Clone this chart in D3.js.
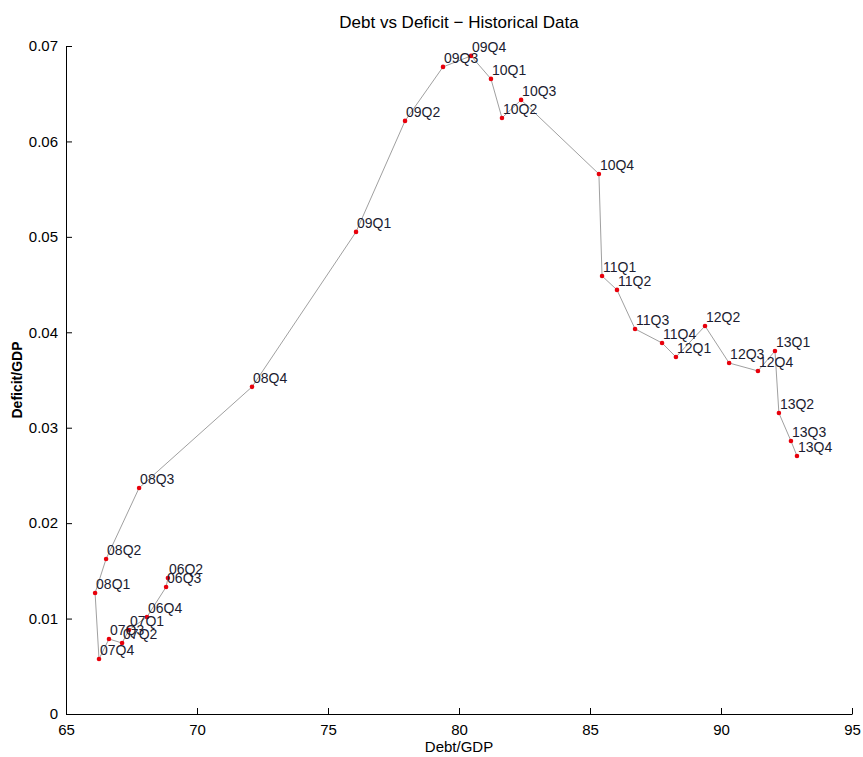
<!DOCTYPE html>
<html>
<head>
<meta charset="utf-8">
<script src="https://cdn.jsdelivr.net/npm/d3@7"></script>
<style>
  body { margin: 0; background: #fff; }
  text { font-family: "Liberation Sans", Arial, sans-serif; }
</style>
</head>
<body>
<svg id="chart" width="863" height="757"></svg>
<script>
// quarters, debt/GDP and deficit/GDP
var quarters = ["06Q2", "06Q3", "06Q4", "07Q1", "07Q2", "07Q3", "07Q4", "08Q1", "08Q2", "08Q3", "08Q4",
                "09Q1", "09Q2", "09Q3", "09Q4", "10Q1", "10Q2", "10Q3", "10Q4", "11Q1", "11Q2", "11Q3",
                "11Q4", "12Q1", "12Q2", "12Q3", "12Q4", "13Q1", "13Q2", "13Q3", "13Q4"];
var debt = [68.89, 68.82, 68.09, 67.40, 67.14, 66.64, 66.26, 66.11, 66.53, 67.79, 72.10,
            76.07, 77.94, 79.39, 80.46, 81.22, 81.64, 82.37, 85.34, 85.46, 86.03, 86.72,
            87.75, 88.28, 89.39, 90.31, 91.41, 92.06, 92.21, 92.67, 92.90];
var deficit = [0.01425, 0.01331, 0.01017, 0.00880, 0.00744, 0.00786, 0.00576, 0.01268, 0.01625, 0.02369, 0.03428,
               0.05052, 0.06215, 0.06781, 0.06896, 0.06655, 0.06246, 0.06435, 0.05659, 0.04590, 0.04444, 0.04035,
               0.03888, 0.03741, 0.04066, 0.03678, 0.03595, 0.03804, 0.03154, 0.02861, 0.02704];
var xTicks = [65, 70, 75, 80, 85, 90, 95];
var yTicks = [0, 0.01, 0.02, 0.03, 0.04, 0.05, 0.06, 0.07];

var data = quarters.map(function(q, i) { return { q: q, x: debt[i], y: deficit[i] }; });

var svg = d3.select("#chart");
var M = { LEFT: 66, RIGHT: 852, TOP: 46, BOTTOM: 714 };

var x = d3.scaleLinear().domain([65, 95]).range([M.LEFT, M.RIGHT]);
var y = d3.scaleLinear().domain([0, 0.07]).range([M.BOTTOM, M.TOP]);

// ejes, ticks hacia adentro
var xAxis = svg.append("g")
    .attr("transform", "translate(0," + M.BOTTOM + ")")
    .call(d3.axisBottom(x).tickValues(xTicks).tickSizeInner(-6).tickSizeOuter(0).tickPadding(10)
        .tickFormat(d3.format("d")));
var yAxis = svg.append("g")
    .attr("transform", "translate(" + M.LEFT + ",0)")
    .call(d3.axisLeft(y).tickValues(yTicks).tickSizeInner(-6).tickSizeOuter(0).tickPadding(8)
        .tickFormat(function(d) { return d === 0 ? "0" : d3.format(".2f")(d); }));

[xAxis, yAxis].forEach(function(g) {
  g.select(".domain").attr("stroke", "#000");
  g.selectAll(".tick line").attr("stroke", "#000");
  g.selectAll(".tick text")
    .attr("fill", "#000")
    .style("font-family", "'Liberation Sans Narrow', 'Liberation Sans', Arial, sans-serif")
    .style("font-size", "15px");
});

// linea
svg.append("path")
    .datum(data)
    .attr("fill", "none")
    .attr("stroke", "#a0a0a0")
    .attr("stroke-width", 1)
    .attr("d", d3.line().x(function(d) { return x(d.x); }).y(function(d) { return y(d.y); }));

// puntos
svg.selectAll(".dot")
    .data(data)
    .enter()
    .append("circle")
    .attr("cx", function(d) { return x(d.x); })
    .attr("cy", function(d) { return y(d.y); })
    .attr("r", 2.3)
    .attr("fill", "#e8000b");

// etiquetas
svg.selectAll(".lbl")
    .data(data)
    .enter()
    .append("text")
    .attr("x", function(d) { return x(d.x) + 1; })
    .attr("y", function(d) { return y(d.y) - 4; })
    .attr("fill", "#1c1c30")
    .style("font-size", "14px")
    .text(function(d) { return d.q; });

// titulo y ejes
svg.append("text")
    .attr("x", 459).attr("y", 28)
    .attr("text-anchor", "middle")
    .style("font-family", "'Liberation Sans Narrow', 'Liberation Sans', Arial, sans-serif")
    .style("font-size", "17px")
    .text("Debt vs Deficit \u2212 Historical Data");

svg.append("text")
    .attr("x", 459).attr("y", 752)
    .attr("text-anchor", "middle")
    .style("font-family", "'Liberation Sans Narrow', 'Liberation Sans', Arial, sans-serif")
    .style("font-size", "15px")
    .text("Debt/GDP");

svg.append("text")
    .attr("transform", "translate(22,380) rotate(-90)")
    .attr("text-anchor", "middle")
    .style("font-size", "14px")
    .style("font-weight", "bold")
    .text("Deficit/GDP");
</script>
</body>
</html>
